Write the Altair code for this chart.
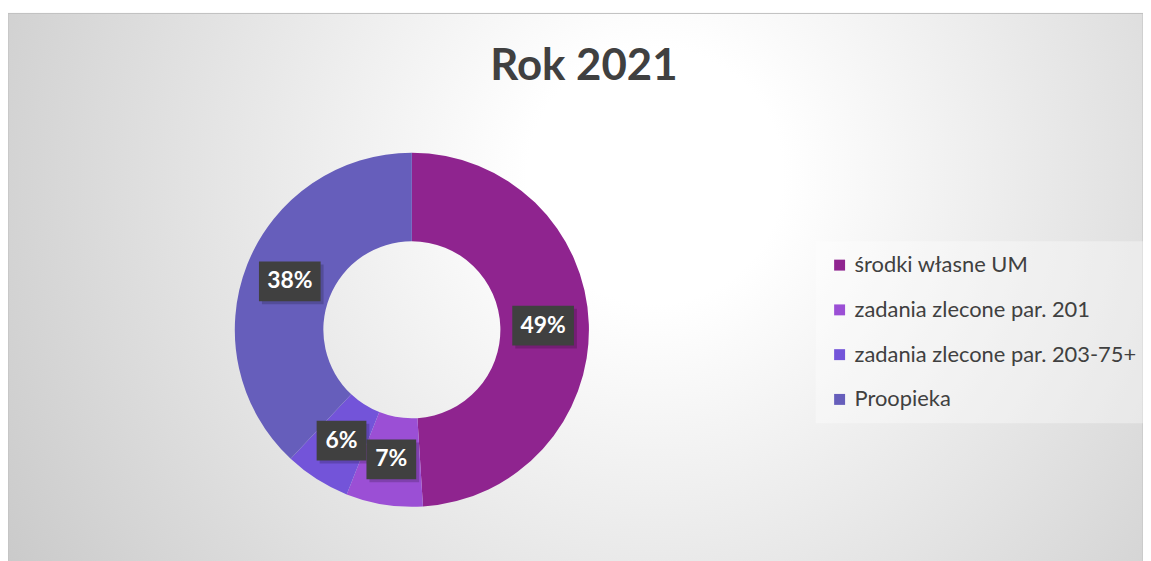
import altair as alt
import pandas as pd

categories = ["środki własne UM", "zadania zlecone par. 201",
              "zadania zlecone par. 203-75+", "Proopieka"]
values = [49, 7, 6, 38]
colors = ["#8F248F", "#9B4FD5", "#7354D9", "#665EBB"]
title_text = ["Rok 2021"]

df = pd.DataFrame({"category": categories, "value": values,
                   "order": list(range(len(categories)))})

W, H = 1141, 556
CX, CY = 406, 318
R_OUT, R_IN = 178, 89
R_LAB = 132
FONT = "Lato"

bg = alt.Chart(pd.DataFrame({"a": [0]})).mark_rect(
    fill=alt.RadialGradient(
        gradient="radial",
        stops=[alt.GradientStop(color="#ffffff", offset=0),
               alt.GradientStop(color="#ffffff", offset=0.15),
               alt.GradientStop(color="#c2c2c2", offset=1)],
        x1=0.57, y1=0.4, r1=0, x2=0.57, y2=0.4, r2=0.75),
    stroke="#bfbfbf", strokeWidth=1,
).encode(x=alt.value(0), x2=alt.value(W), y=alt.value(0), y2=alt.value(H))

base = alt.Chart(df)

arcs = base.mark_arc(outerRadius=R_OUT, innerRadius=R_IN).encode(
    theta=alt.Theta("value:Q", stack=True),
    color=alt.Color(
        "category:N",
        scale=alt.Scale(domain=categories, range=colors),
        sort=categories,
        legend=alt.Legend(
            title=None, orient="none", legendX=812, legendY=229,
            symbolType="square", symbolSize=121, symbolStrokeWidth=0,
            labelFont=FONT, labelFontSize=22, labelColor="#404040",
            rowPadding=23, fillColor="rgba(255,255,255,0.35)",
            padding=13, labelLimit=400, labelOffset=4,
        ),
    ),
    order=alt.Order("order:Q"),
    x=alt.value(CX), y=alt.value(CY),
)

lab = base.transform_joinaggregate(total="sum(value)").transform_window(
    cum="sum(value)", sort=[alt.SortField("order")], frame=[None, 0]
).transform_calculate(
    ang="(datum.cum - datum.value/2)/datum.total*2*PI",
    px=f"{CX} + {R_LAB}*sin(datum.ang)",
    py=f"{CY} - {R_LAB}*cos(datum.ang)",
    label="format(datum.value/datum.total, '.0%')",
    bw="length(datum.label) > 2 ? 62 : 50",
    bx1="datum.px - datum.bw/2",
    bx2="datum.px + datum.bw/2",
    by1="datum.py - 20",
    by2="datum.py + 20",
    sx1="datum.bx1 + 3", sx2="datum.bx2 + 3",
    sy1="datum.by1 + 3", sy2="datum.by2 + 3",
)

shadow = lab.mark_rect(fill="#000000", opacity=0.18).encode(
    x=alt.X("sx1:Q", scale=None, axis=None), x2="sx2:Q",
    y=alt.Y("sy1:Q", scale=None, axis=None), y2="sy2:Q",
)
boxes = lab.mark_rect(fill="#404040").encode(
    x=alt.X("bx1:Q", scale=None, axis=None), x2="bx2:Q",
    y=alt.Y("by1:Q", scale=None, axis=None), y2="by2:Q",
)
texts = lab.mark_text(font=FONT, fontWeight="bold", fontSize=23,
                      color="white", baseline="middle", align="center").encode(
    x=alt.X("px:Q", scale=None, axis=None),
    y=alt.Y("py:Q", scale=None, axis=None),
    text="label:N",
)

title = alt.Chart(pd.DataFrame({"t": title_text})).mark_text(
    font=FONT, fontWeight="bold", fontSize=44, color="#404040",
    baseline="middle", align="center",
).encode(x=alt.value(579), y=alt.value(54), text="t:N")

chart = alt.layer(bg, arcs, shadow, boxes, texts, title).properties(
    width=W, height=H, autosize="none",
    padding={"left": 0, "top": 4, "right": 0, "bottom": 0},
).configure_view(stroke=None)

chart.save("out.html", embed_options={"renderer": "svg", "actions": False})
